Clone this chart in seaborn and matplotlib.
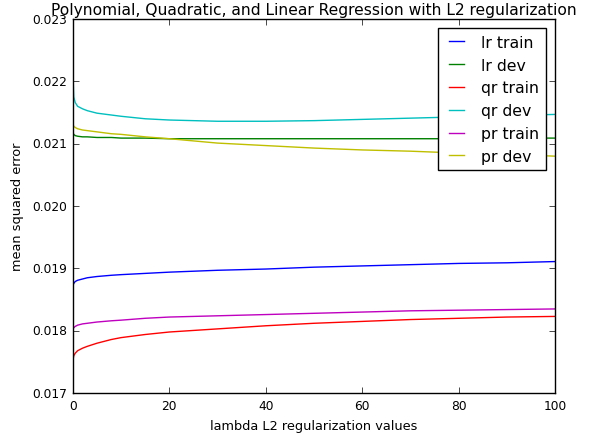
import numpy as np
import pandas as pd
import matplotlib
matplotlib.use('Agg')
import matplotlib.pyplot as plt
import seaborn as sns

# ---- data ----
lambdas = [0, 0.2, 0.5, 1, 2, 3, 5, 8, 10, 15, 20, 30, 40, 50, 60, 70, 80, 90, 100]

lr_train = [0.01872, 0.01876, 0.01879, 0.01881, 0.01883, 0.01885, 0.01887, 0.01889, 0.01890, 0.01892,
            0.01894, 0.01897, 0.01899, 0.01902, 0.01904, 0.01906, 0.01908, 0.01909, 0.01911]
lr_dev = [0.02118, 0.02115, 0.02113, 0.02112, 0.02111, 0.02111, 0.02110, 0.02110, 0.02109, 0.02109,
          0.02108, 0.02108, 0.02108, 0.02108, 0.02108, 0.02108, 0.02108, 0.02109, 0.02109]
qr_train = [0.01752, 0.01760, 0.01764, 0.01768, 0.01772, 0.01775, 0.01780, 0.01786, 0.01789, 0.01794,
            0.01798, 0.01803, 0.01808, 0.01812, 0.01815, 0.01818, 0.01820, 0.01822, 0.01823]
qr_dev = [0.02217, 0.02175, 0.02166, 0.02160, 0.02156, 0.02153, 0.02149, 0.02146, 0.02144, 0.02140,
          0.02138, 0.02136, 0.02136, 0.02137, 0.02139, 0.02141, 0.02143, 0.02145, 0.02147]
pr_train = [0.01802, 0.01805, 0.01807, 0.01809, 0.01811, 0.01812, 0.01814, 0.01816, 0.01817, 0.01820,
            0.01822, 0.01824, 0.01826, 0.01828, 0.01830, 0.01832, 0.01833, 0.01834, 0.01835]
pr_dev = [0.02132, 0.02128, 0.02126, 0.02124, 0.02122, 0.02121, 0.02119, 0.02116, 0.02115, 0.02111,
          0.02108, 0.02101, 0.02097, 0.02093, 0.02090, 0.02088, 0.02085, 0.02083, 0.02080]

series_names = ['lr train', 'lr dev', 'qr train', 'qr dev', 'pr train', 'pr dev']
series_colors = ['#0000ff', '#008000', '#ff0000', '#00bfbf', '#bf00bf', '#bfbf00']

# build long-form table for seaborn
frames = []
for name, vals in zip(series_names, [lr_train, lr_dev, qr_train, qr_dev, pr_train, pr_dev]):
    frames.append(pd.DataFrame({'lambda': lambdas, 'mse': vals, 'series': name}))
df = pd.concat(frames, ignore_index=True)

# ---- plot ----
plt.style.use('classic')
fig = plt.figure(figsize=(5.92, 4.35), dpi=100, facecolor='white')
ax = fig.add_axes([0.123, 0.094, 0.815, 0.86])

sns.lineplot(data=df, x='lambda', y='mse', hue='series', hue_order=series_names,
             palette=dict(zip(series_names, series_colors)), linewidth=1, ax=ax)

ax.set_xlim(0, 100)
ax.set_ylim(0.017, 0.023)
ax.set_xticks([0, 20, 40, 60, 80, 100])
ax.set_yticks([0.017, 0.018, 0.019, 0.020, 0.021, 0.022, 0.023])
ax.set_yticklabels(['0.017', '0.018', '0.019', '0.020', '0.021', '0.022', '0.023'])
ax.tick_params(labelsize=8.8)
ax.set_xlabel('lambda L2 regularization values', fontsize=9.3, labelpad=5)
ax.set_ylabel('mean squared error', fontsize=9.3, labelpad=6)
ax.set_title('Polynomial, Quadratic, and Linear Regression with L2 regularization',
             fontsize=11.2, y=0.995)

handles, labels = ax.get_legend_handles_labels()
ax.legend(handles, labels, loc='upper right', fontsize=11.3, handlelength=1.6,
          borderaxespad=0.6)

fig.savefig('out.png', dpi=100, facecolor='white')
